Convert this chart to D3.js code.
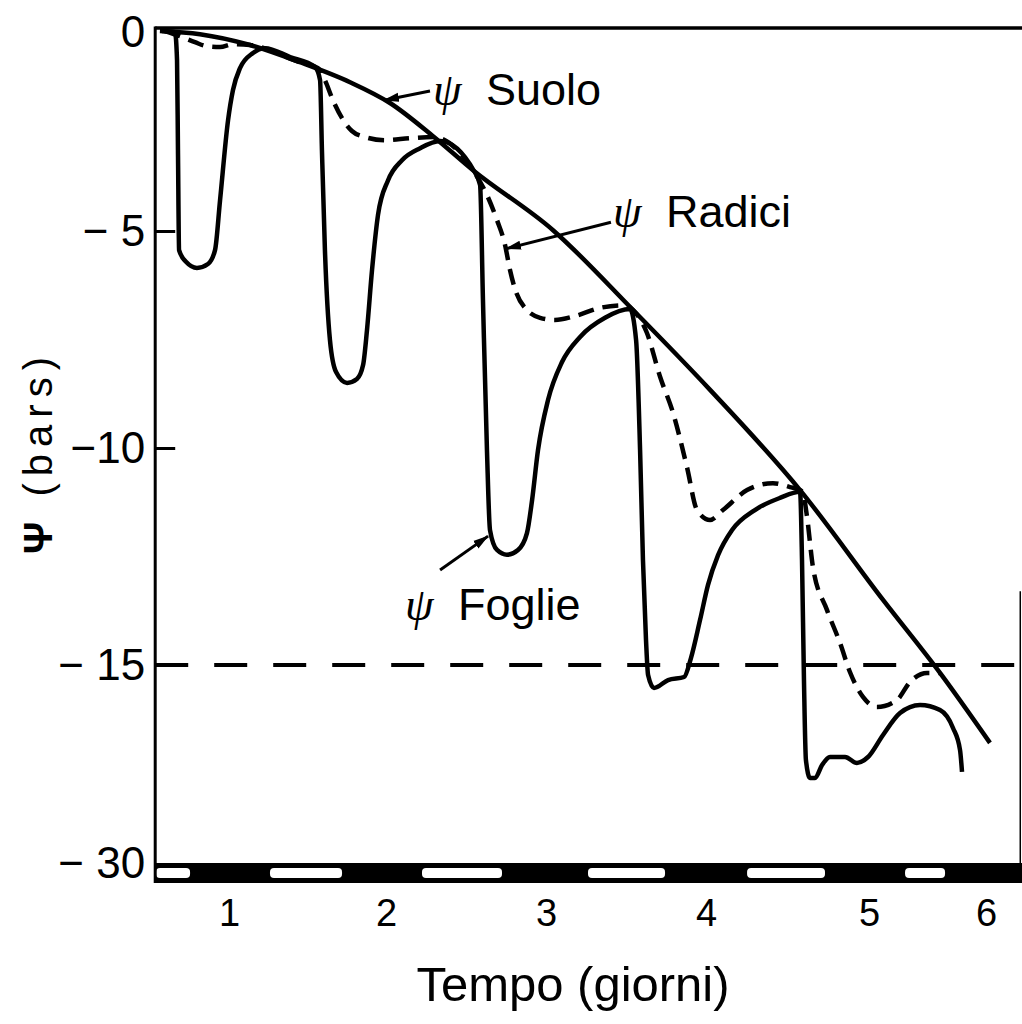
<!DOCTYPE html>
<html><head><meta charset="utf-8">
<script src="https://cdn.jsdelivr.net/npm/d3@7"></script>
<style>body{margin:0;background:#fff} svg{display:block}</style>
</head><body>
<svg id="chart" width="1022" height="1024"></svg>
<script>
// ---- data (time in days, water potential in bars) ----
const dayTicks = [1, 2, 3, 4, 5, 6];
const psiTicks = [0, -5, -10, -15, -30];
const psiTickLabels = ["0", "\u2212 5", "\u221210", "\u2212 15", "\u2212 30"];
const dayExtent = [0.53, 6.31];
const wiltingPoint = -15;
// light periods (white segments of the day/night bar)
const dayPeriods = [[0.535, 0.752], [1.261, 1.72], [2.225, 2.725], [3.2625, 3.744], [4.252, 4.73], [5.308, 5.65]];

const soil = [[0.56,0],[0.815,-0.08],[1.134,-0.35],[1.452,-0.78],[1.771,-1.28],[2.025,-1.8],[2.294,-2.63],[2.544,-3.48],[3.044,-4.98],[3.544,-6.82],[4.025,-8.66],[4.577,-10.97],[5.12,-13.5],[5.607,-15.6],[6.034,-20.9]];

const leaf = [
 [0.573,0],[0.656,-0.03],[0.669,-0.73],[0.675,-2.98],[0.682,-5.44],[0.726,-5.71],[0.796,-5.85],[0.866,-5.76],[0.911,-5.44],[0.943,-4.23],[0.994,-2.23],[1.025,-1.48],[1.070,-0.93],[1.153,-0.55],[1.229,-0.43],[1.389,-0.65],[1.548,-0.9],
 [1.580,-1.23],[1.592,-2.98],[1.611,-5.44],[1.643,-7.51],[1.682,-8.25],[1.752,-8.5],[1.815,-8.41],[1.854,-8.09],[1.879,-7.28],[1.911,-5.9],[1.949,-4.6],[2.013,-3.73],[2.10,-3.23],[2.213,-2.93],[2.338,-2.75],
 [2.55,-3.5],[2.588,-3.85],[2.606,-6.59],[2.631,-10.05],[2.65,-11.89],[2.694,-12.35],[2.756,-12.46],[2.825,-12.35],[2.881,-11.96],[2.913,-11.2],[2.95,-10.05],[3.013,-8.89],[3.1,-8.02],[3.213,-7.44],[3.369,-7.0],[3.525,-6.8],
 [3.563,-7.51],[3.588,-10.05],[3.606,-12.58],[3.625,-14.42],[3.638,-15.76],[3.675,-16.74],[3.763,-16.14],[3.863,-15.91],[3.906,-14.84],[3.963,-13.96],[4.012,-13.16],[4.074,-12.47],[4.16,-11.89],[4.3,-11.43],[4.454,-11.15],[4.577,-11.01],
 [4.589,-12.58],[4.601,-16.14],[4.613,-22.2],[4.638,-23.56],[4.669,-23.56],[4.712,-22.58],[4.761,-21.97],[4.853,-21.97],[4.926,-22.42],[4.994,-21.97],[5.12,-20.3],[5.265,-18.64],[5.436,-18.03],[5.607,-18.41],[5.718,-19.77],[5.778,-21.44],[5.795,-23.1]
];

const root = [
 [0.592,0],[0.688,-0.13],[0.783,-0.28],[0.86,-0.38],[0.943,-0.4],[1.025,-0.33],[1.134,-0.35],[1.452,-0.78],[1.567,-0.93],
 [1.611,-1.23],[1.662,-1.73],[1.72,-2.18],[1.783,-2.5],[1.866,-2.65],[1.994,-2.73],[2.15,-2.68],[2.294,-2.65],[2.544,-3.48],
 [2.563,-3.6],[2.631,-4.1],[2.694,-4.73],[2.744,-5.32],[2.775,-5.9],[2.813,-6.41],[2.881,-6.82],[2.963,-7.0],[3.056,-7.05],[3.181,-6.96],[3.338,-6.77],[3.494,-6.71],[3.544,-6.82],
 [3.631,-7.35],[3.713,-8.36],[3.794,-9.19],[3.881,-10.44],[3.944,-11.43],[4.025,-11.66],[4.104,-11.43],[4.252,-10.97],[4.411,-10.81],[4.515,-10.9],[4.577,-10.97],
 [4.595,-11.04],[4.62,-11.59],[4.656,-12.74],[4.742,-13.73],[4.822,-14.49],[4.883,-15.53],[4.963,-17.42],[5.068,-18.18],[5.239,-17.65],[5.35,-16.29],[5.496,-15.6],[5.607,-15.6]
];

// annotation anchors (data units): label start, arrow start, arrow tip
const annotations = [
 {name: "Suolo",  at: [2.294, -1.85], from: [2.275, -1.5],  to: [1.987, -1.73]},
 {name: "Radici", at: [3.419, -4.9],  from: [3.406, -4.78], to: [2.75, -5.41]},
 {name: "Foglie", at: [2.119, -13.96], from: [2.338, -12.81], to: [2.638, -12.03]}
];

// ---- drawing ----
const svg = d3.select("#chart");
const FONT = "'Liberation Sans', Arial, sans-serif";
const x = d3.scaleLinear().domain(dayTicks).range([229, 386, 546, 706, 869, 986]);
const y = d3.scaleLinear().domain(psiTicks).range([31, 231, 448, 665, 863]);

const x0 = x(dayExtent[0]), x1 = x(dayExtent[1]);

svg.append("defs").append("marker")
  .attr("id", "arr").attr("markerUnits", "userSpaceOnUse")
  .attr("viewBox", "0 -5 16 10").attr("refX", 15).attr("refY", 0)
  .attr("markerWidth", 16).attr("markerHeight", 10).attr("orient", "auto")
  .append("path").attr("d", "M0,-4.5L16,0L0,4.5Z").attr("fill", "#000");

// day/night bar
const barTop = y(-30), barH = 20;
svg.append("rect").attr("x", x0).attr("y", barTop).attr("width", x1 - x0).attr("height", barH).attr("fill", "#000");
svg.selectAll("rect.day").data(dayPeriods).join("rect").attr("class", "day")
  .attr("x", d => x(d[0])).attr("width", d => x(d[1]) - x(d[0]))
  .attr("y", barTop + 5).attr("height", barH - 10).attr("rx", 4).attr("fill", "#fff");

// frame
svg.append("line").attr("x1", x0).attr("x2", x1).attr("y1", y(0) - 3).attr("y2", y(0) - 3)
  .attr("stroke", "#000").attr("stroke-width", 3.5);
svg.append("line").attr("x1", x0).attr("x2", x0).attr("y1", y(0) - 4.5).attr("y2", barTop + barH)
  .attr("stroke", "#000").attr("stroke-width", 3);
svg.append("line").attr("x1", x1 - 2).attr("x2", x1 - 2).attr("y1", y(-13.3)).attr("y2", barTop)
  .attr("stroke", "#000").attr("stroke-width", 1.5);

// y axis
const yAxis = d3.axisLeft(y).tickValues(psiTicks.slice(1))
  .tickFormat(d => psiTickLabels[psiTicks.indexOf(d)])
  .tickSizeInner(-20).tickSizeOuter(0).tickPadding(10);
const gy = svg.append("g").attr("transform", `translate(${x0},0)`).call(yAxis);
gy.select(".domain").remove();
gy.selectAll(".tick line").attr("stroke", "#000").attr("stroke-width", 3)
  .filter(d => d === -30).remove();
gy.selectAll(".tick text").attr("font-family", FONT).attr("font-size", 44).attr("fill", "#000").attr("x", -10);
svg.append("text").attr("x", x0 - 10).attr("y", y(0)).attr("dy", "0.36em")
  .attr("text-anchor", "end").attr("font-family", FONT).attr("font-size", 44).text(psiTickLabels[0]);

// x axis labels
const xAxis = d3.axisBottom(x).tickValues(dayTicks).tickFormat(d3.format("d")).tickSize(0).tickPadding(0);
const gx = svg.append("g").attr("transform", `translate(0,${barTop + barH})`).call(xAxis);
gx.select(".domain").remove();
gx.selectAll(".tick text").attr("font-family", FONT).attr("font-size", 38).attr("fill", "#000")
  .attr("y", 43).attr("dy", 0);

// axis titles
svg.append("text").attr("x", 573).attr("y", 1001).attr("text-anchor", "middle")
  .attr("font-family", FONT).attr("font-size", 49).text("Tempo (giorni)");
const yt = svg.append("text").attr("transform", "translate(52,452) rotate(-90)")
  .attr("text-anchor", "middle").attr("font-family", FONT).attr("font-size", 40).attr("letter-spacing", 7);
yt.append("tspan").attr("font-weight", "bold").text("\u03A8");
yt.append("tspan").text(" (bars)");

// wilting point line
svg.append("line").attr("x1", x0).attr("x2", x1).attr("y1", y(wiltingPoint)).attr("y2", y(wiltingPoint))
  .attr("stroke", "#000").attr("stroke-width", 4).attr("stroke-dasharray", "33,26");

// curves
const line = d3.line().x(d => x(d[0])).y(d => y(d[1])).curve(d3.curveMonotoneX);
svg.append("path").datum(soil).attr("d", line).attr("fill", "none").attr("stroke", "#000").attr("stroke-width", 4.5);
svg.append("path").datum(root).attr("d", line).attr("fill", "none").attr("stroke", "#000").attr("stroke-width", 4.5)
  .attr("stroke-dasharray", "16,9");
svg.append("path").datum(leaf).attr("d", line).attr("fill", "none").attr("stroke", "#000").attr("stroke-width", 4.5)
  .attr("stroke-linejoin", "round");

// annotations
annotations.forEach(a => {
  svg.append("line").attr("x1", x(a.from[0])).attr("y1", y(a.from[1]))
    .attr("x2", x(a.to[0])).attr("y2", y(a.to[1]))
    .attr("stroke", "#000").attr("stroke-width", 3).attr("marker-end", "url(#arr)");
  svg.append("text").attr("x", x(a.at[0])).attr("y", y(a.at[1]))
    .attr("font-family", "'Liberation Serif', serif").attr("font-style", "italic").attr("font-size", 46)
    .text("\u03C8");
  svg.append("text").attr("x", x(a.at[0]) + 53).attr("y", y(a.at[1]))
    .attr("font-family", FONT).attr("font-size", 45).text(a.name);
});
</script>
</body></html>
